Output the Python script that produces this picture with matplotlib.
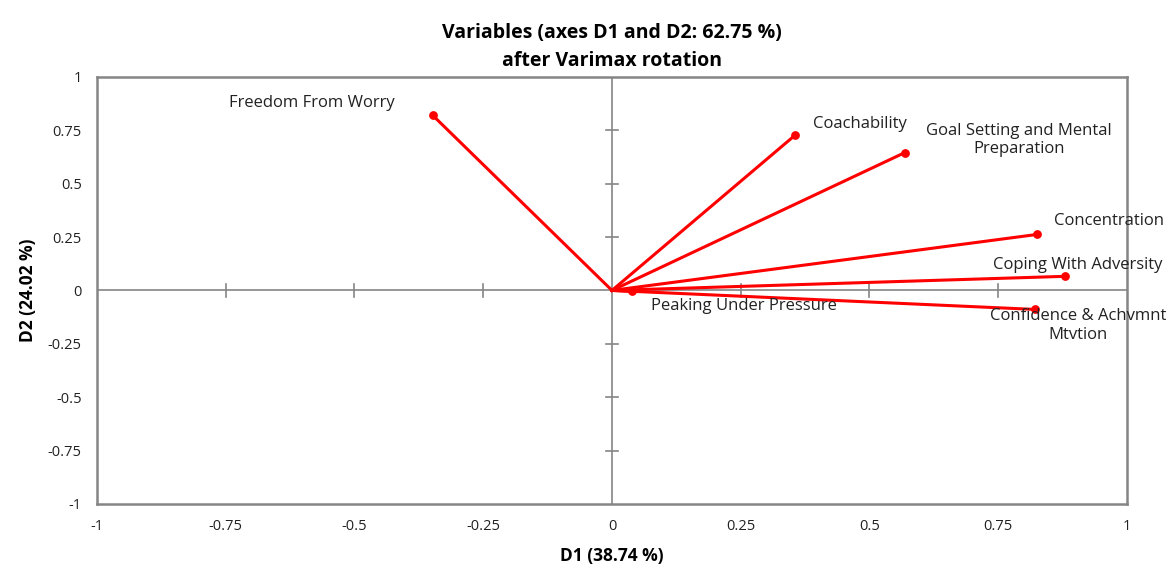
import matplotlib.pyplot as plt

# factor loadings after varimax rotation
names = ["Freedom From Worry", "Coachability", "Goal Setting and Mental\nPreparation",
         "Concentration", "Coping With Adversity", "Confidence & Achvmnt\nMtvtion",
         "Peaking Under Pressure"]
d1 = [-0.348, 0.355, 0.569, 0.825, 0.880, 0.821, 0.039]
d2 = [0.820, 0.726, 0.646, 0.262, 0.066, -0.089, -0.005]

# label anchor positions and alignment
label_x = [-0.421, 0.39, 0.79, 0.858, 0.74, 0.905, 0.076]
label_y = [0.88, 0.778, 0.705, 0.323, 0.117, -0.165, -0.075]
label_ha = ["right", "left", "center", "left", "left", "center", "left"]

ticks = [-1, -0.75, -0.5, -0.25, 0, 0.25, 0.5, 0.75, 1]
tick_labels = ["-1", "-0.75", "-0.5", "-0.25", "0", "0.25", "0.5", "0.75", "1"]

plt.rcParams["font.family"] = ["Open Sans", "DejaVu Sans"]

fig = plt.figure(figsize=(11.69, 5.70), dpi=100)
ax = fig.add_axes([0.083, 0.116, 0.881, 0.749])

gray = "#858585"
ax.axhline(0, color=gray, lw=1.2, zorder=1)
ax.axvline(0, color=gray, lw=1.2, zorder=1)
# small tick marks on the crosshair
for t in ticks[1:-1]:
    if t == 0:
        continue
    ax.plot([t, t], [-0.03, 0.03], color=gray, lw=1.2, zorder=1)
    ax.plot([-0.012, 0.012], [t, t], color=gray, lw=1.2, zorder=1)

for x, y in zip(d1, d2):
    ax.plot([0, x], [0, y], color="#ff0000", lw=2.2, zorder=3)
ax.scatter(d1, d2, s=28, color="#ff0000", zorder=4)

for n, x, y, ha in zip(names, label_x, label_y, label_ha):
    ax.text(x, y, n, ha=ha, va="center", fontsize=12, color="#222222",
            linespacing=1.2, zorder=5)

ax.set_xlim(-1, 1)
ax.set_ylim(-1, 1)
ax.set_xticks(ticks)
ax.set_xticklabels(tick_labels)
ax.set_yticks(ticks)
ax.set_yticklabels(tick_labels)
ax.tick_params(length=0, labelsize=10.5, pad=11, colors="#222222")
for s in ax.spines.values():
    s.set_color(gray)
    s.set_linewidth(1.8)

ax.set_xlabel("D1 (38.74 %)", fontsize=12.5, fontweight="bold", labelpad=9)
ax.set_ylabel("D2 (24.02 %)", fontsize=12.5, fontweight="bold", labelpad=8)
ax.set_title("Variables (axes D1 and D2: 62.75 %)\nafter Varimax rotation",
             fontsize=14, fontweight="bold", pad=8, linespacing=1.55)

plt.savefig("out.png")
